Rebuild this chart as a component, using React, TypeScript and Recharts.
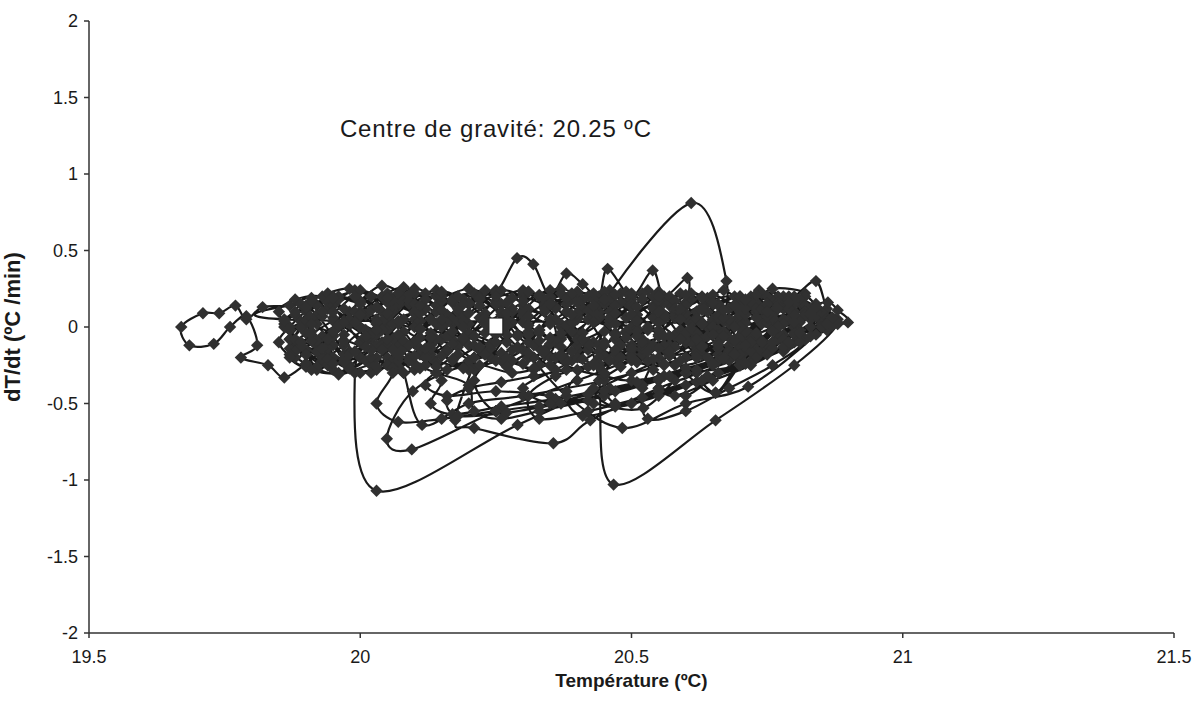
import React from 'react';
import {
  ScatterChart,
  Scatter,
  XAxis,
  YAxis,
  ReferenceDot,
  Label,
} from 'recharts';

// Temperature (ºC) recorded sample after sample
const temperature: number[] = [
  20.05, 20.09, 20.14, 20.18, 20.17, 20.12, 20.07, 20.04, 20.07, 20.12,
  20.17, 20.2, 20.18, 20.13, 20.08, 20.05, 20.04, 19.99, 19.94, 19.9,
  19.88, 19.93, 19.98, 19.95, 19.91, 19.87, 19.82, 19.79, 19.77, 19.74,
  19.71, 19.67, 19.685, 19.73, 19.76, 19.79, 19.81, 19.78, 19.83, 19.86,
  19.9, 19.94, 19.97, 20.0, 20.04, 20.08, 20.1, 20.07, 20.02, 19.97,
  19.95, 19.98, 20.02, 20.07, 20.11, 20.1, 20.05, 20.0, 19.95, 19.93,
  20.06, 20.03, 19.99, 20.03, 20.29, 20.5, 20.62, 20.66, 20.7, 20.74,
  20.76, 20.72, 20.67, 20.63, 20.62, 20.64, 20.69, 20.73, 20.72, 20.68,
  20.63, 20.6, 20.58, 20.55, 20.5, 20.46, 20.44, 20.48, 20.53, 20.5,
  20.44, 20.61, 20.675, 20.66, 20.64, 20.58, 20.52, 20.47, 20.43, 20.39,
  20.34, 20.31, 20.34, 20.39, 20.42, 20.44, 20.467, 20.655, 20.8, 20.88,
  20.86, 20.84, 20.8, 20.77, 20.735, 20.7, 20.68, 20.71, 20.77, 20.83,
  20.899, 20.88, 20.862, 20.82, 20.8, 20.75, 20.7, 20.655, 20.6, 20.57,
  20.56, 20.6, 20.603, 20.56, 20.539, 20.5, 20.456, 20.44, 20.41, 20.38,
  20.35, 20.319, 20.289, 20.25, 20.2, 20.15, 20.12, 20.16, 20.21, 20.25,
  20.3, 20.35, 20.36, 20.33, 20.28, 20.2, 20.097, 20.049, 20.095, 20.25,
  20.4, 20.52, 20.58, 20.62, 20.66, 20.7, 20.68, 20.62, 20.56, 20.5,
  20.45, 20.42, 20.38, 20.33, 20.28, 20.24, 20.22, 20.175, 20.21, 20.356,
  20.424, 20.55, 20.7, 20.78, 20.76, 20.72, 20.68, 20.64, 20.6, 20.55,
  20.51, 20.47, 20.43, 20.4, 20.37, 20.32, 20.27, 20.23, 20.19, 20.14,
  20.09, 20.05, 20.02, 19.98, 19.94, 19.9, 19.87, 19.85, 19.88, 19.93,
  19.97, 20.0, 20.03, 20.06, 20.08, 20.114, 20.2, 20.3, 20.45, 20.6,
  20.72, 20.75, 20.78, 20.74, 20.69, 20.66, 20.62, 20.57, 20.52, 20.49,
  20.45, 20.4, 20.36, 20.33, 20.3, 20.25, 20.2, 20.17, 20.14, 20.1,
  20.05, 20.01, 19.97, 19.94, 19.92, 19.96, 20.0, 20.04, 20.08, 20.12,
  20.16, 20.19, 20.23, 20.27, 20.31, 20.38, 20.483, 20.6, 20.715, 20.84,
  20.85, 20.84, 20.8, 20.76, 20.73, 20.69, 20.66, 20.63, 20.59, 20.55,
  20.53, 20.5, 20.47, 20.43, 20.4, 20.37, 20.34, 20.3, 20.26, 20.23,
  20.2, 20.16, 20.12, 20.09, 20.06, 20.03, 20.0, 19.96, 19.92, 19.89,
  19.87, 19.9, 19.95, 20.03, 20.07, 20.1, 20.13, 20.17, 20.21, 20.25,
  20.28, 20.31, 20.35, 20.4, 20.45, 20.5, 20.6, 20.7, 20.8, 20.83,
  20.81, 20.77, 20.73, 20.7, 20.67, 20.63, 20.59, 20.56, 20.52, 20.48,
  20.44, 20.4, 20.37, 20.33, 20.29, 20.26, 20.22, 20.18, 20.14, 20.11,
  20.08, 20.05, 20.02, 19.98, 19.95, 19.92, 19.9, 19.94, 19.98, 20.02,
  20.06, 20.1, 20.13, 20.17, 20.21, 20.24, 20.27, 20.3, 20.33, 20.37,
  20.41, 20.44, 20.47, 20.5, 20.54, 20.58, 20.62, 20.66, 20.7, 20.74,
  20.78, 20.82, 20.76, 20.72, 20.69, 20.65, 20.61, 20.57, 20.53, 20.49,
  20.46, 20.43, 20.4, 20.36, 20.3, 20.356, 20.45, 20.55, 20.65, 20.75,
  20.8, 20.84, 20.82, 20.78, 20.74, 20.7, 20.66, 20.62, 20.58, 20.54,
  20.5, 20.47, 20.44, 20.4, 20.37, 20.34, 20.3, 20.26, 20.22, 20.18,
  20.15, 20.11, 20.07, 20.03, 20.0, 19.97, 19.94, 19.9, 19.87, 19.85,
  19.88, 19.92, 19.96, 20.0, 20.04, 20.08, 20.12, 20.16, 20.2, 20.24,
  20.28, 20.32, 20.36, 20.4, 20.44, 20.48, 20.52, 20.56, 20.6, 20.64,
  20.68, 20.72, 20.76, 20.8, 20.86, 20.84, 20.79, 20.74, 20.7, 20.655,
  20.6, 20.522, 20.43, 20.35, 20.25, 20.16, 20.12, 20.14, 20.2, 20.28,
  20.33, 20.38, 20.42, 20.46, 20.5, 20.54, 20.58, 20.62, 20.66, 20.7,
  19.86, 19.89, 19.92, 19.95, 19.98, 20.01, 20.04, 20.07, 20.1, 20.13,
  20.16, 20.19, 20.22, 20.25, 20.28, 20.31, 20.34, 20.37, 20.4, 20.43,
  20.46, 20.49, 20.52, 20.55, 20.58, 20.61, 20.64, 20.67, 20.7, 20.73,
  20.76, 20.79, 20.82, 20.85, 20.87, 20.84, 20.81, 20.78, 20.75, 20.72,
  20.69, 20.66, 20.63, 20.6, 20.57, 20.54, 20.51, 20.48, 20.45, 20.42,
  20.39, 20.36, 20.33, 20.3, 20.27, 20.24, 20.21, 20.18, 20.15, 20.12,
  20.09, 20.06, 20.03, 20.0, 19.97, 19.94, 19.91, 19.88, 19.86, 19.89,
  19.92, 19.95, 19.98, 20.01, 20.04, 20.07, 20.1, 20.13, 20.16, 20.19,
  20.22, 20.25, 20.28, 20.31, 20.34, 20.37, 20.4, 20.43, 20.46, 20.49,
  20.52, 20.55, 20.58, 20.61, 20.64, 20.67, 20.7, 20.73, 20.76, 20.79,
  20.82, 20.85, 20.8, 20.74, 20.68, 20.62, 20.56, 20.5, 20.44, 20.38,
  20.32, 20.26, 20.2, 20.14, 20.08, 20.02, 19.96, 19.9, 19.87, 19.9,
  19.93, 19.96, 19.99, 20.02, 20.05, 20.08, 20.11, 20.14, 20.17, 20.2,
  20.23, 20.26, 20.29, 20.32, 20.35, 20.38, 20.41, 20.44, 20.47, 20.5,
  20.53, 20.56, 20.59, 20.62, 20.65, 20.68, 20.71, 20.74, 20.77, 20.8,
  20.77, 20.73, 20.66, 20.6, 20.55, 20.58, 20.65, 20.72, 20.79, 20.86,
  20.83, 20.79, 20.75, 20.71, 20.67, 20.63, 20.59, 20.55, 20.51, 20.47,
  20.43, 20.39, 20.35, 20.31, 20.27, 20.23, 20.19, 20.15, 20.11, 20.07,
  20.03, 19.99, 19.95, 19.91, 19.88, 19.92, 19.96, 20.0, 20.04, 20.08,
  20.12, 20.15, 20.13, 20.17, 20.26, 20.36, 20.46, 20.56, 20.66, 20.76,
  20.81, 20.84, 20.8, 20.75, 20.7, 20.65, 20.6, 20.55, 20.5, 20.45,
  20.4, 20.35, 20.3, 20.25, 20.2, 20.15, 20.1, 20.05, 20.0, 19.95,
  19.9, 19.86, 19.89, 19.93, 19.97, 20.01, 20.05, 20.09, 20.13, 20.17,
  20.21, 20.25, 20.29, 20.33, 20.37, 20.41, 20.45, 20.49, 20.53, 20.57,
  20.61, 20.65, 20.69, 20.73, 20.77, 20.81, 20.84, 20.81, 20.77, 20.73,
  20.69, 20.65, 20.6, 20.55, 20.52, 20.53, 20.6, 20.68, 20.76, 20.82,
  20.78, 20.74, 20.7, 20.66, 20.62, 20.58, 20.54, 20.5, 20.46, 20.42,
  20.38, 20.34, 20.3, 20.26, 20.22, 20.18, 20.14, 20.1, 20.06, 20.02,
  19.98, 19.94, 19.9, 19.87, 19.9, 19.94, 19.98, 20.02, 20.06, 20.1,
  20.14, 20.2, 20.21, 20.26, 20.33, 20.42, 20.52, 20.62, 20.72, 20.8,
  20.76, 20.71, 20.66, 20.61, 20.56, 20.51, 20.46, 20.41, 20.36, 20.31,
  20.26, 20.21, 20.16, 20.11, 20.06, 20.01, 19.96, 19.91, 19.87, 19.91,
  19.95, 20.0, 20.05, 20.1, 20.15, 20.2, 20.25, 20.3, 20.35, 20.4,
  20.45, 20.5, 20.55, 20.6, 20.65, 20.7, 20.75, 20.8, 20.85, 20.88,
  20.86, 20.82, 20.78, 20.74, 20.7, 20.66, 20.62, 20.58, 20.54, 20.5,
  20.46, 20.42, 20.38, 20.34, 20.3, 20.26, 20.22, 20.18, 20.14, 20.1,
  20.06, 20.02, 19.98, 19.94, 19.9, 19.87, 19.89, 19.93, 19.97, 20.01,
  20.04, 20.06, 20.03, 20.07, 20.15, 20.25, 20.35, 20.45, 20.55, 20.65,
  20.72, 20.78, 20.75, 20.71, 20.67, 20.63, 20.59, 20.55, 20.51, 20.47,
  20.43, 20.39, 20.35, 20.31, 20.27, 20.23, 20.19, 20.15, 20.11, 20.07,
  20.24, 20.21, 20.25, 20.33, 20.42, 20.51, 20.6, 20.69, 20.78, 20.86,
  20.82, 20.76, 20.7, 20.62, 20.52, 20.44, 20.38, 20.41, 20.5, 20.6,
  20.7, 20.79, 20.87, 20.83, 20.77, 20.7, 20.63, 20.56, 20.5, 20.45,
  20.47, 20.55, 20.64, 20.73, 20.81, 20.88, 20.84, 20.79, 20.73, 20.67,
  20.6, 20.54, 20.48, 20.42, 20.36, 20.31, 20.33, 20.42, 20.52, 20.62,
  20.72, 20.81, 20.87, 20.84, 20.8, 20.74, 20.68, 20.62, 20.56, 20.5,
  20.44, 20.38, 20.32, 20.26, 20.2, 20.16, 20.18, 20.27, 20.37, 20.47,
  20.57, 20.67, 20.76, 20.85, 20.82, 20.77, 20.71, 20.65, 20.59, 20.53,
  20.48, 20.43, 20.47, 20.55, 20.63, 20.71, 20.78, 20.86, 20.82, 20.77,
  20.62, 20.57, 20.52, 20.47, 20.42, 20.37, 20.32, 20.27, 20.22, 20.17,
  20.12, 20.07, 20.02, 19.97, 19.92, 19.88, 19.86, 19.9, 19.95, 20.0,
  20.05, 20.1, 20.15, 20.2, 20.25, 20.3, 20.35, 20.4, 20.45, 20.5,
  20.55, 20.6, 20.65, 20.7, 20.75, 20.8, 20.84, 20.87, 20.85, 20.81,
  20.77, 20.73, 20.69, 20.65, 20.61, 20.57, 20.53, 20.49, 20.45, 20.41,
  20.37, 20.33, 20.29, 20.25, 20.21, 20.17, 20.13, 20.09, 20.05, 20.01,
  19.97, 19.93, 19.89, 19.87, 19.91, 19.95, 19.99, 20.03, 20.07, 20.11,
  20.15, 20.19, 20.23, 20.27, 20.31, 20.35, 20.39, 20.43, 20.47, 20.51,
  20.55, 20.59, 20.63, 20.67, 20.71, 20.75, 20.79, 20.83, 20.86, 20.83,
  20.79, 20.75, 20.71, 20.67, 20.63, 20.59, 20.55, 20.51, 20.47, 20.43,
  20.39, 20.35, 20.31, 20.27, 20.23, 20.19, 20.15, 20.11, 20.07, 20.03,
  19.99, 19.95, 19.91, 19.88, 19.91, 19.95, 19.99, 20.03, 20.07, 20.11,
  20.15, 20.19, 20.23, 20.27, 20.31, 20.35, 20.39, 20.43, 20.47, 20.51,
  20.55, 20.59, 20.63, 20.67, 20.71, 20.75, 20.79, 20.83, 20.8, 20.76,
];

// Rate of change dT/dt (ºC/min) for each sample above
const rate: number[] = [
  0.02, 0.15, 0.2, 0.1, -0.08, -0.18, -0.12, 0.0, 0.14, 0.22,
  0.16, 0.02, -0.12, -0.2, -0.14, -0.02, 0.1, 0.2, 0.12, 0.02,
  -0.1, -0.22, -0.16, 0.06, 0.19, 0.14, 0.13, 0.05, 0.14, 0.09,
  0.09, 0.0, -0.12, -0.11, 0.0, 0.07, -0.12, -0.2, -0.25, -0.33,
  -0.24, -0.12, 0.03, 0.17, 0.27, 0.2, 0.05, -0.1, -0.22, -0.18,
  -0.05, 0.1, 0.2, 0.15, 0.04, -0.1, -0.2, -0.3, -0.2, -0.06,
  0.1, -0.05, -0.3, -1.07, -0.64, -0.3, -0.1, 0.08, 0.18, 0.12,
  -0.02, -0.14, -0.2, -0.08, 0.06, 0.16, 0.2, 0.1, -0.05, -0.15,
  -0.18, -0.05, 0.1, 0.2, 0.14, 0.02, -0.12, -0.2, -0.12, 0.0,
  0.1, 0.81, 0.3, -0.05, -0.2, -0.25, -0.15, -0.05, 0.1, 0.18,
  0.1, -0.05, -0.18, -0.22, -0.12, -0.35, -1.03, -0.61, -0.25, 0.02,
  0.12, 0.3, 0.2, 0.19, 0.24, 0.15, 0.02, -0.1, -0.08, 0.0,
  0.03, 0.11, 0.16, 0.12, 0.0, -0.12, -0.22, -0.43, -0.3, -0.12,
  0.05, 0.16, 0.32, 0.2, 0.37, 0.2, 0.38, 0.2, 0.28, 0.35,
  0.2, 0.41, 0.45, 0.22, 0.15, 0.02, -0.15, -0.28, -0.2, -0.05,
  0.1, 0.05, -0.1, -0.25, -0.3, -0.25, -0.42, -0.73, -0.8, -0.55,
  -0.35, -0.18, -0.05, 0.1, 0.15, 0.05, -0.12, -0.2, -0.25, -0.22,
  -0.1, 0.05, 0.15, 0.2, 0.12, 0.0, -0.15, -0.61, -0.66, -0.76,
  -0.61, -0.4, -0.2, -0.05, 0.1, 0.2, 0.12, 0.0, -0.1, -0.05,
  0.08, 0.15, 0.08, -0.05, -0.18, -0.2, -0.1, 0.05, 0.18, 0.24,
  0.17, 0.06, -0.08, -0.18, -0.25, -0.15, -0.02, 0.1, 0.18, 0.2,
  0.12, 0.0, -0.12, -0.22, -0.3, -0.64, -0.5, -0.45, -0.35, -0.2,
  -0.05, 0.08, 0.2, 0.22, 0.14, -0.02, -0.14, -0.18, -0.08, 0.06,
  0.18, 0.22, 0.12, -0.02, -0.15, -0.22, -0.12, 0.02, 0.14, 0.22,
  0.18, 0.08, -0.05, -0.18, -0.28, -0.3, -0.2, -0.1, 0.05, 0.12,
  0.05, -0.08, -0.18, -0.25, -0.2, -0.45, -0.66, -0.5, -0.39, -0.05,
  0.05, 0.15, 0.1, 0.0, -0.1, -0.08, 0.05, 0.2, 0.22, 0.12,
  0.0, -0.12, -0.22, -0.25, -0.15, 0.0, 0.15, 0.22, 0.15, 0.05,
  -0.05, -0.15, -0.25, -0.2, -0.08, 0.05, 0.15, 0.2, 0.14, 0.04,
  -0.08, -0.18, -0.28, -0.28, -0.2, -0.1, 0.05, 0.18, 0.22, 0.15,
  0.03, -0.1, -0.2, -0.28, -0.32, -0.35, -0.3, -0.25, -0.1, 0.05,
  0.16, 0.2, 0.16, 0.05, -0.06, -0.12, -0.05, 0.08, 0.18, 0.22,
  0.15, 0.05, -0.08, -0.14, -0.06, 0.08, 0.18, 0.2, 0.1, -0.02,
  -0.14, -0.25, -0.3, -0.25, -0.12, 0.02, 0.14, 0.22, 0.25, 0.2,
  0.12, 0.0, -0.12, -0.22, -0.28, -0.2, -0.05, 0.1, 0.2, 0.25,
  0.18, 0.06, -0.08, -0.18, -0.28, -0.35, -0.3, -0.18, -0.06, 0.05,
  0.12, 0.22, 0.25, 0.15, 0.04, -0.05, 0.02, 0.14, 0.24, 0.16,
  0.04, -0.1, -0.2, -0.28, -0.4, -0.5, -0.45, -0.35, -0.25, -0.12,
  0.0, 0.1, 0.2, 0.14, 0.02, -0.08, -0.14, -0.06, 0.06, 0.14,
  0.08, -0.04, -0.16, -0.12, 0.02, 0.14, 0.2, 0.24, 0.14, 0.04,
  -0.08, -0.18, -0.26, -0.2, -0.1, 0.04, 0.16, 0.1, 0.0, -0.1,
  -0.2, -0.12, 0.0, 0.1, 0.2, 0.26, 0.18, 0.08, -0.04, -0.14,
  -0.22, -0.28, -0.2, -0.08, 0.06, 0.16, 0.22, 0.16, 0.06, -0.06,
  -0.16, -0.22, -0.14, -0.04, 0.06, 0.1, 0.05, -0.1, -0.25, -0.43,
  -0.3, -0.53, -0.5, -0.45, -0.42, -0.45, -0.38, -0.3, -0.22, -0.15,
  -0.02, 0.1, 0.2, 0.24, 0.18, 0.06, -0.06, -0.16, -0.1, 0.02,
  0.05, 0.15, 0.08, -0.06, -0.18, -0.1, 0.04, 0.16, 0.1, -0.04,
  -0.16, -0.08, 0.06, 0.17, 0.1, -0.03, -0.15, -0.07, 0.07, 0.18,
  0.1, -0.04, -0.14, -0.06, 0.08, 0.18, 0.1, -0.03, -0.13, -0.05,
  0.08, 0.16, 0.1, 0.04, 0.06, 0.13, 0.18, 0.12, 0.03, -0.08,
  -0.17, -0.1, 0.03, 0.14, 0.2, 0.12, -0.01, -0.12, -0.19, -0.1,
  0.02, 0.13, 0.21, 0.14, 0.01, -0.11, -0.2, -0.13, 0.0, 0.12,
  0.21, 0.14, 0.02, -0.1, -0.21, -0.14, -0.03, 0.08, 0.0, -0.12,
  -0.26, -0.2, -0.27, -0.22, -0.12, -0.2, -0.28, -0.18, -0.06, 0.06,
  0.2, 0.24, 0.19, 0.23, 0.18, 0.22, 0.17, 0.22, 0.19, 0.23,
  0.18, 0.23, 0.17, 0.22, 0.19, 0.24, 0.18, 0.21, 0.17, 0.2,
  0.14, 0.08, -0.05, -0.16, -0.22, -0.18, -0.24, -0.2, -0.26, -0.21,
  -0.27, -0.22, -0.28, -0.23, -0.3, -0.25, -0.31, -0.24, -0.14, -0.04,
  0.07, 0.18, 0.24, 0.2, 0.09, -0.03, -0.14, -0.08, 0.05, 0.15,
  0.09, -0.02, -0.13, -0.2, -0.11, 0.01, 0.12, 0.07, -0.05, -0.15,
  -0.22, -0.14, -0.02, 0.1, 0.04, -0.07, -0.16, -0.09, 0.02, 0.1,
  0.0, -0.15, -0.3, -0.45, -0.4, -0.45, -0.35, -0.25, -0.12, 0.02,
  0.08, 0.12, 0.06, -0.02, 0.06, 0.13, 0.07, -0.02, 0.08, 0.14,
  0.06, -0.03, 0.05, 0.12, 0.05, -0.04, 0.04, 0.11, 0.04, -0.05,
  0.03, 0.1, 0.04, -0.05, -0.16, -0.09, 0.01, 0.07, -0.02, -0.09,
  -0.2, -0.35, -0.5, -0.57, -0.52, -0.47, -0.4, -0.32, -0.22, -0.1,
  -0.02, 0.07, 0.15, 0.2, 0.13, 0.21, 0.14, 0.22, 0.15, 0.23,
  0.16, 0.24, 0.17, 0.23, 0.16, 0.22, 0.15, 0.22, 0.16, 0.2,
  0.12, 0.02, -0.1, -0.2, -0.12, -0.02, -0.12, -0.22, -0.14, -0.03,
  -0.12, -0.22, -0.14, -0.04, -0.13, -0.21, -0.12, -0.03, -0.11, -0.19,
  -0.1, -0.01, -0.09, -0.17, -0.07, 0.03, 0.1, 0.05, -0.04, 0.06,
  0.14, 0.05, -0.08, -0.2, -0.4, -0.6, -0.55, -0.4, -0.25, -0.08,
  0.05, 0.12, 0.2, 0.14, 0.05, 0.12, 0.2, 0.13, 0.04, 0.11,
  0.19, 0.12, 0.03, 0.1, 0.19, 0.12, 0.02, 0.09, 0.18, 0.11,
  0.02, -0.08, -0.18, -0.08, 0.04, 0.12, 0.05, -0.05, -0.15, -0.24,
  -0.3, -0.38, -0.55, -0.6, -0.55, -0.48, -0.38, -0.28, -0.16, -0.04,
  0.05, -0.03, 0.06, -0.02, 0.07, -0.03, 0.06, -0.04, 0.05, -0.05,
  0.04, -0.06, 0.03, -0.07, 0.02, -0.08, 0.01, -0.09, -0.02, 0.06,
  0.14, 0.08, 0.16, 0.1, 0.17, 0.09, 0.15, 0.08, 0.16, 0.09,
  0.15, 0.08, 0.16, 0.09, 0.15, 0.08, 0.15, 0.08, 0.1, 0.05,
  -0.02, -0.08, -0.16, -0.1, -0.18, -0.12, -0.2, -0.13, -0.21, -0.14,
  -0.22, -0.15, -0.23, -0.16, -0.24, -0.17, -0.25, -0.18, -0.26, -0.19,
  -0.27, -0.2, -0.27, -0.21, -0.26, -0.18, 0.0, 0.1, 0.03, -0.06,
  -0.15, -0.3, -0.5, -0.62, -0.6, -0.55, -0.5, -0.42, -0.34, -0.24,
  -0.1, 0.02, 0.1, 0.03, -0.06, 0.02, 0.1, 0.03, -0.06, 0.02,
  0.1, 0.03, -0.07, 0.01, 0.09, 0.02, -0.07, 0.01, 0.09, 0.02,
  -0.12, -0.35, -0.55, -0.52, -0.44, -0.36, -0.27, -0.18, -0.08, 0.02,
  0.1, 0.06, 0.0, -0.06, -0.12, -0.2, -0.42, -0.58, -0.5, -0.38,
  -0.25, -0.12, 0.02, 0.12, 0.16, 0.1, 0.02, -0.06, -0.14, -0.3,
  -0.5, -0.42, -0.32, -0.2, -0.08, 0.03, 0.12, 0.18, 0.12, 0.04,
  -0.04, -0.12, -0.2, -0.26, -0.32, -0.45, -0.6, -0.55, -0.46, -0.36,
  -0.24, -0.1, 0.01, 0.1, 0.17, 0.12, 0.05, -0.04, -0.12, -0.2,
  -0.24, -0.28, -0.32, -0.36, -0.4, -0.48, -0.58, -0.56, -0.5, -0.42,
  -0.32, -0.21, -0.1, 0.02, 0.1, 0.14, 0.08, 0.0, -0.08, -0.16,
  -0.26, -0.4, -0.52, -0.45, -0.35, -0.24, -0.13, 0.0, 0.08, 0.12,
  -0.08, -0.16, -0.1, -0.18, -0.11, -0.19, -0.12, -0.2, -0.13, -0.21,
  -0.14, -0.22, -0.15, -0.23, -0.16, -0.08, 0.04, 0.13, 0.19, 0.24,
  0.19, 0.25, 0.2, 0.25, 0.2, 0.24, 0.19, 0.23, 0.18, 0.22,
  0.17, 0.21, 0.16, 0.2, 0.15, 0.18, 0.13, 0.06, 0.0, -0.04,
  0.0, -0.04, 0.0, -0.05, -0.01, -0.06, -0.02, -0.07, -0.03, -0.08,
  -0.04, -0.09, -0.05, -0.1, -0.06, -0.11, -0.07, -0.12, -0.08, -0.13,
  -0.09, -0.14, -0.1, -0.2, -0.28, -0.24, -0.16, -0.26, -0.18, -0.27,
  -0.19, -0.27, -0.18, -0.26, -0.17, -0.25, -0.16, -0.24, -0.15, -0.23,
  -0.14, -0.22, -0.13, -0.2, -0.12, -0.18, -0.1, -0.06, 0.02, 0.08,
  0.12, 0.07, 0.12, 0.06, 0.11, 0.05, 0.1, 0.04, 0.09, 0.03,
  0.08, 0.02, 0.07, 0.01, 0.06, 0.0, 0.05, -0.01, 0.04, -0.02,
  0.03, -0.03, 0.02, 0.1, 0.17, 0.1, 0.2, 0.13, 0.22, 0.14,
  0.23, 0.15, 0.24, 0.16, 0.23, 0.15, 0.22, 0.14, 0.21, 0.13,
  0.2, 0.12, 0.19, 0.11, 0.18, 0.1, 0.16, 0.09, 0.03, -0.03,
];

// Centre of gravity of the cloud
const centreTemperature = 20.25;
const centreRate = 0;
const centreCaption = 'Centre de gravité: 20.25 ºC';

const xTicks = [19.5, 20, 20.5, 21, 21.5];
const yTicks = [-2, -1.5, -1, -0.5, 0, 0.5, 1, 1.5, 2];

const samples = temperature.map((t, i) => ({ t, r: rate[i] }));
const centre = [{ t: centreTemperature, r: centreRate }];

// Smooth curve through every point (uniform Catmull-Rom as cubic Béziers)
const smoothCurve = (context: any) => {
  let pts: [number, number][] = [];
  return {
    areaStart() {},
    areaEnd() {},
    lineStart() {
      pts = [];
    },
    point(x: number, y: number) {
      pts.push([+x, +y]);
    },
    lineEnd() {
      const n = pts.length;
      if (!n) return;
      context.moveTo(pts[0][0], pts[0][1]);
      for (let i = 0; i < n - 1; i++) {
        const p0 = pts[i - 1] || pts[i];
        const p1 = pts[i];
        const p2 = pts[i + 1];
        const p3 = pts[i + 2] || p2;
        context.bezierCurveTo(
          p1[0] + (p2[0] - p0[0]) / 6,
          p1[1] + (p2[1] - p0[1]) / 6,
          p2[0] - (p3[0] - p1[0]) / 6,
          p2[1] - (p3[1] - p1[1]) / 6,
          p2[0],
          p2[1]
        );
      }
    },
  };
};

const DiamondMark = (props: any) => {
  const { cx, cy } = props;
  if (cx == null || cy == null) return null;
  const r = 6.2;
  return (
    <path
      d={`M${cx},${cy - r}L${cx + r},${cy}L${cx},${cy + r}L${cx - r},${cy}Z`}
      fill="#303030"
    />
  );
};

const SquareMark = (props: any) => {
  const { cx, cy } = props;
  if (cx == null || cy == null) return null;
  return (
    <rect x={cx - 7} y={cy - 9} width={14} height={16} fill="#ffffff" stroke="#222" strokeWidth={1.2} />
  );
};

const FONT = '"Liberation Sans", Arial, sans-serif';

export default function App() {
  return (
    <div style={{ position: 'absolute', left: 0, top: 0, width: 1198, height: 713, background: '#fff' }}>
      <ScatterChart width={1198} height={713} margin={{ top: 21, right: 24, bottom: 0, left: 0 }}>
        <XAxis
          type="number"
          dataKey="t"
          domain={[19.5, 21.5]}
          ticks={xTicks}
          allowDataOverflow
          height={80}
          stroke="#333"
          strokeWidth={1.5}
          tickSize={5}
          tickMargin={12}
          tick={{ fill: '#1a1a1a', fontSize: 18, fontFamily: FONT }}
        >
          <Label
            value="Température (ºC)"
            position="insideBottom"
            offset={26}
            style={{ fill: '#1a1a1a', fontSize: 19, fontWeight: 'bold', fontFamily: FONT }}
          />
        </XAxis>
        <YAxis
          type="number"
          dataKey="r"
          domain={[-2, 2]}
          ticks={yTicks}
          allowDataOverflow
          width={89}
          stroke="#333"
          strokeWidth={1.5}
          tickSize={5}
          tickMargin={6}
          tick={{ fill: '#1a1a1a', fontSize: 18, fontFamily: FONT }}
        >
          <Label
            value="dT/dt (ºC /min)"
            angle={-90}
            position="insideLeft"
            offset={12}
            style={{ textAnchor: 'middle', fill: '#1a1a1a', fontSize: 22, fontWeight: 'bold', fontFamily: FONT }}
          />
        </YAxis>
        <Scatter
          data={samples}
          isAnimationActive={false}
          fill="#303030"
          shape={<DiamondMark />}
          line={{ stroke: '#1a1a1a', strokeWidth: 2.2 }}
          lineType="joint"
          lineJointType={smoothCurve as any}
        />
        <Scatter data={centre} isAnimationActive={false} fill="#ffffff" shape={<SquareMark />} />
        <ReferenceDot x={centreTemperature} y={1.3} r={0} fill="none" stroke="none">
          <Label
            value={centreCaption}
            position="center"
            style={{ fill: '#1a1a1a', fontSize: 24, letterSpacing: 0.8, fontFamily: FONT }}
          />
        </ReferenceDot>
      </ScatterChart>
    </div>
  );
}
